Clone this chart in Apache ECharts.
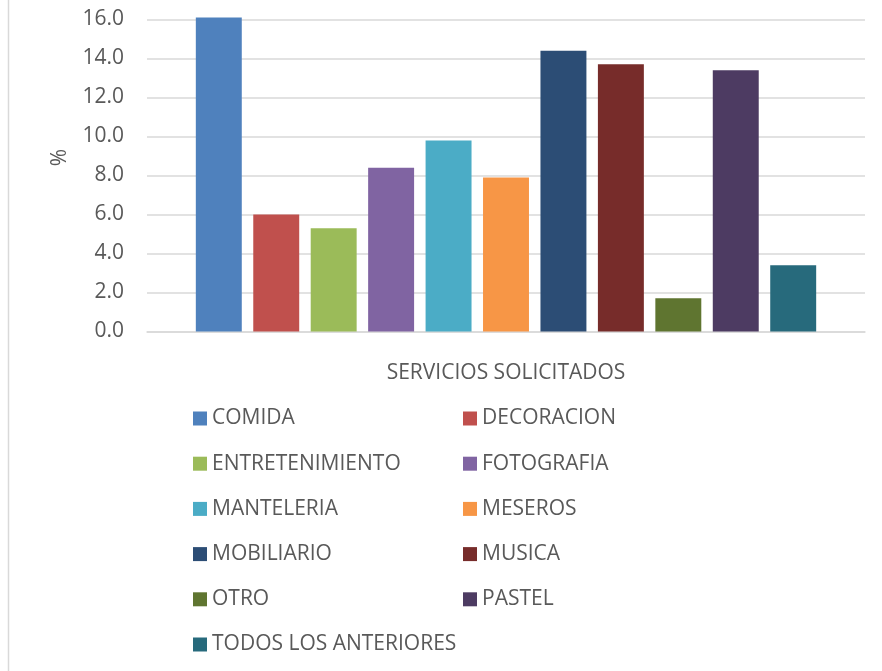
<!DOCTYPE html>
<html>
<head>
<meta charset="utf-8">
<script src="https://cdn.jsdelivr.net/npm/echarts@6/dist/echarts.min.js"></script>
<style>
  html, body { margin: 0; padding: 0; background: #ffffff; }
  #chart { width: 882px; height: 671px; }
</style>
</head>
<body>
<div id="chart"></div>
<script>
// Servicios solicitados (%)
const services = [
  'COMIDA', 'DECORACION', 'ENTRETENIMIENTO', 'FOTOGRAFIA', 'MANTELERIA', 'MESEROS',
  'MOBILIARIO', 'MUSICA', 'OTRO', 'PASTEL', 'TODOS LOS ANTERIORES'
];
const percents = [16.1, 6.0, 5.3, 8.4, 9.8, 7.9, 14.4, 13.7, 1.7, 13.4, 3.4];
const colors = [
  '#4F81BD', '#C0504D', '#9BBB59', '#8064A2', '#4BACC6', '#F79646',
  '#2C4D75', '#772C2A', '#5F7530', '#4D3B62', '#276A7C'
];
const categoryLabel = 'SERVICIOS SOLICITADOS';
const yTicks = { min: 0, max: 16, step: 2 };

const textColor = '#595959';
const font = 'Open Sans';
const fontSize = 21;
const gridColor = '#d9d9d9';

const series = services.map((name, i) => ({
  name: name,
  type: 'bar',
  data: [percents[i]],
  clip: false,
  barGap: '25%',
  barCategoryGap: '13.6%',
  itemStyle: { color: colors[i] }
}));

const legendCommon = {
  orient: 'vertical',
  padding: 0,
  itemWidth: 14,
  itemHeight: 14,
  itemGap: 24.2,
  icon: 'rect',
  selectedMode: false,
  textStyle: { color: textColor, fontFamily: font, fontSize: fontSize, lineHeight: 20 }
};

const chart = echarts.init(document.getElementById('chart'), null, { renderer: 'canvas' });
chart.setOption({
  backgroundColor: '#ffffff',
  animation: false,
  grid: { left: 147, right: 17, top: 19.5, bottom: 339.5 },
  xAxis: {
    type: 'category',
    data: [''],
    name: categoryLabel,
    nameLocation: 'middle',
    nameGap: 31,
    nameTextStyle: { color: textColor, fontFamily: font, fontSize: fontSize },
    axisLine: { lineStyle: { color: gridColor, width: 1.5 } },
    axisTick: { show: false },
    axisLabel: { show: false }
  },
  yAxis: {
    type: 'value',
    min: yTicks.min,
    max: yTicks.max,
    interval: yTicks.step,
    name: '%',
    nameLocation: 'middle',
    nameGap: 76,
    nameRotate: 90,
    nameTextStyle: { color: textColor, fontFamily: font, fontSize: fontSize, padding: [0, 0, 0, 36] },
    axisLine: { show: false },
    axisTick: { show: false },
    axisLabel: {
      color: textColor, fontFamily: font, fontSize: fontSize, margin: 23,
      formatter: v => v.toFixed(1)
    },
    splitLine: { lineStyle: { color: gridColor, width: 1.5 } }
  },
  legend: [
    Object.assign({}, legendCommon, {
      left: 193, top: 408,
      data: services.filter((_, i) => i % 2 === 0)
    }),
    Object.assign({}, legendCommon, {
      left: 463, top: 408,
      data: services.filter((_, i) => i % 2 === 1)
    })
  ],
  graphic: [{
    type: 'line',
    shape: { x1: 8.5, y1: 0, x2: 8.5, y2: 671 },
    style: { stroke: gridColor, lineWidth: 1.5 }
  }],
  series: series
});
</script>
</body>
</html>
